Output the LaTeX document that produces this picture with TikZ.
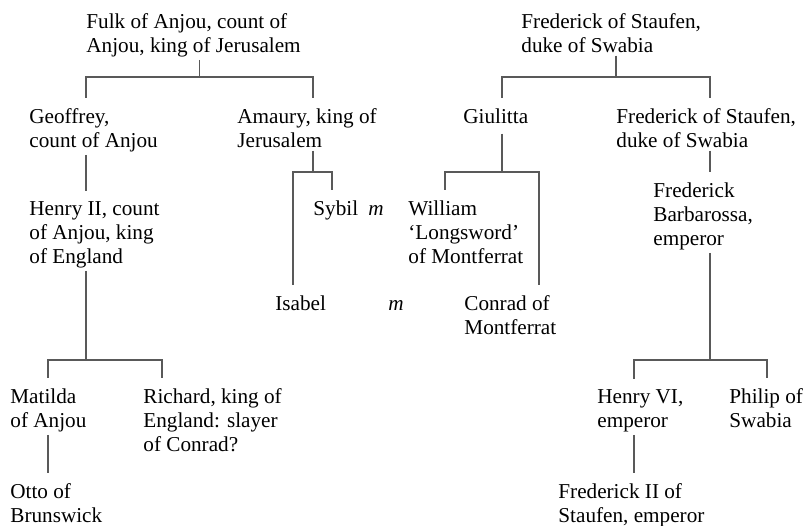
\documentclass[tikz,border=0pt]{standalone}
\usepackage{fontspec}
\setmainfont{Liberation Serif}
\usepackage{tikz}

\begin{document}
\begin{tikzpicture}[x=0.5pt,y=-0.5pt]
    \tikzstyle{every node}+=[inner sep=0pt]
    \tikzstyle{person}=[anchor=base west, align=left, font=\fontsize{10.6}{12}\selectfont]
    \tikzstyle{kin}=[draw=black!65, line width=0.6pt, shorten <=1.5pt, shorten >=5pt]
    \useasboundingbox (0,0) rectangle (807,525);
    % left family (placed by the baseline of the last line)
    \draw (86,52) node [person] (fulk) {Fulk of Anjou, count of\\Anjou, king of Jerusalem};
    \draw (29,147) node [person] (geoffrey) {Geoffrey,\\count of Anjou};
    \draw (237,147) node [person] (amaury) {Amaury, king of\\Jerusalem};
    \draw (29,263) node [person] (henryii) {Henry II, count\\of Anjou, king\\of England};
    \draw (313,215) node [person] (sybil) {Sybil};
    \draw (368,215) node [person] (msybil) {\textit{m}};
    \draw (275,310) node [person] (isabel) {Isabel};
    \draw (388,310) node [person] (misabel) {\textit{m}};
    \draw (10,427) node [person] (matilda) {Matilda\\of Anjou};
    \draw (143,451) node [person] (richard) {Richard, king of\\England: slayer\\of Conrad?};
    \draw (10,522) node [person] (otto) {Otto of\\Brunswick};
    % right family
    \draw (521,52) node [person] (fredA) {Frederick of Staufen,\\duke of Swabia};
    \draw (463,123) node [person] (giulitta) {Giulitta};
    \draw (616,147) node [person] (fredB) {Frederick of Staufen,\\duke of Swabia};
    \draw (408,263) node [person] (william) {William\\`Longsword'\\of Montferrat};
    \draw (653,245) node [person] (barbarossa) {Frederick\\Barbarossa,\\emperor};
    \draw (464,334) node [person] (conrad) {Conrad of\\Montferrat};
    \draw (597,427) node [person] (henryvi) {Henry VI,\\emperor};
    \draw (729,427) node [person] (philip) {Philip of\\Swabia};
    \draw (558,522) node [person] (fredii) {Frederick II of\\Staufen, emperor};
    % junctions
    \coordinate (j1) at (199.5,77);
    \coordinate (j1a) at (86,77);
    \coordinate (j1b) at (313,77);
    \coordinate (j2) at (616,77);
    \coordinate (j2a) at (502,77);
    \coordinate (j2b) at (710,77);
    \coordinate (j3) at (313,172);
    \coordinate (j3a) at (293,172);
    \coordinate (j3b) at (332,172);
    \coordinate (j4) at (502,172);
    \coordinate (j4a) at (445,172);
    \coordinate (j4b) at (539,172);
    \coordinate (j5) at (86,360);
    \coordinate (j5a) at (48,360);
    \coordinate (j5b) at (162,360);
    \coordinate (j6) at (710,360);
    \coordinate (j6a) at (634,360);
    \coordinate (j6b) at (767,360);
    % lines of descent
    \draw [kin, shorten >=0pt] (fulk.south -| j1) -- (j1);
    \draw [kin, shorten <=5pt] (geoffrey.north -| j1a) -- (j1a) -- (j1b) -- (j1b |- amaury.north);
    \draw [kin] (geoffrey.south -| j1a) -- (henryii.north -| j1a);
    \draw [kin, shorten >=0pt] (amaury.south -| j3) -- (j3);
    \draw [kin, shorten <=5pt] (isabel.north -| j3a) -- (j3a) -- (j3b) -- (j3b |- sybil.north);
    \draw [kin, shorten >=0pt] (henryii.south -| j5) -- (j5);
    \draw [kin, shorten <=5pt] (matilda.north -| j5a) -- (j5a) -- (j5b) -- (j5b |- richard.north);
    \draw [kin] (matilda.south -| j5a) -- (otto.north -| j5a);
    \draw [kin, shorten >=0pt] (fredA.south -| j2) -- (j2);
    \draw [kin, shorten <=5pt] (giulitta.north -| j2a) -- (j2a) -- (j2b) -- (j2b |- fredB.north);
    \draw [kin, shorten >=0pt, shorten <=5pt] (giulitta.south -| j4) -- (j4);
    \draw [kin, shorten <=5pt] (william.north -| j4a) -- (j4a) -- (j4b) -- (j4b |- conrad.north);
    \draw [kin] (fredB.south -| j2b) -- (barbarossa.north -| j2b);
    \draw [kin, shorten >=0pt] (barbarossa.south -| j6) -- (j6);
    \draw [kin, shorten <=5pt] (henryvi.north -| j6a) -- (j6a) -- (j6b) -- (j6b |- philip.north);
    \draw [kin] (henryvi.south -| j6a) -- (fredii.north -| j6a);
\end{tikzpicture}
\end{document}
